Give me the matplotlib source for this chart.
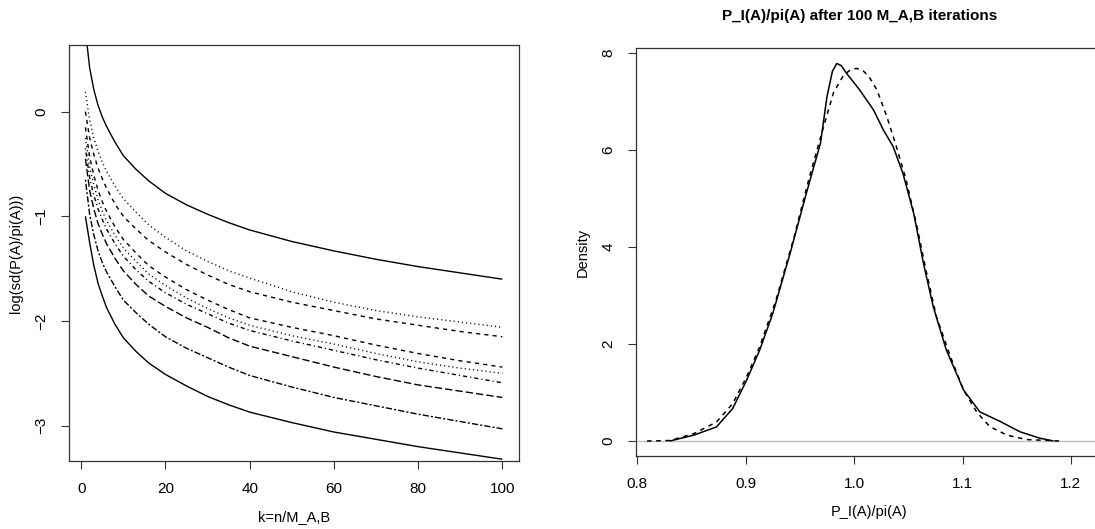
import matplotlib
matplotlib.use("Agg")
import matplotlib.pyplot as plt
import numpy as np

# -----------------------------------------------------------------------------------------------
# DATOS
# -----------------------------------------------------------------------------------------------
# Panel izquierdo: log(sd(P(A)/pi(A))) contra k = n/M_A,B.
k = [1, 2, 3, 4, 5, 6, 8, 10, 13, 16, 20, 25, 30, 35, 40, 50, 60, 70, 80, 90, 100]

curva_1 = [0.78, 0.42, 0.21, 0.06, -0.05, -0.14, -0.29, -0.42, -0.55, -0.66, -0.78,
           -0.89, -0.98, -1.06, -1.13, -1.24, -1.33, -1.41, -1.48, -1.54, -1.60]
curva_2 = [0.19, -0.08, -0.25, -0.38, -0.48, -0.57, -0.71, -0.83, -0.96, -1.08, -1.20,
           -1.33, -1.43, -1.52, -1.59, -1.72, -1.82, -1.90, -1.96, -2.01, -2.06]
curva_3 = [0.0, -0.25, -0.41, -0.54, -0.64, -0.73, -0.88, -1.00, -1.12, -1.23, -1.34,
           -1.46, -1.56, -1.65, -1.72, -1.82, -1.90, -1.98, -2.04, -2.10, -2.15]
curva_4 = [-0.15, -0.43, -0.61, -0.75, -0.86, -0.95, -1.10, -1.22, -1.35, -1.47, -1.58,
           -1.70, -1.80, -1.89, -1.97, -2.06, -2.14, -2.23, -2.31, -2.38, -2.44]
curva_5 = [-0.25, -0.53, -0.70, -0.84, -0.95, -1.04, -1.18, -1.30, -1.43, -1.55, -1.66,
           -1.78, -1.88, -1.97, -2.04, -2.14, -2.22, -2.31, -2.39, -2.45, -2.50]
curva_6 = [-0.35, -0.63, -0.80, -0.93, -1.03, -1.12, -1.26, -1.38, -1.51, -1.62, -1.73,
           -1.84, -1.93, -2.02, -2.09, -2.19, -2.28, -2.37, -2.45, -2.52, -2.59]
curva_7 = [-0.45, -0.75, -0.93, -1.07, -1.17, -1.26, -1.40, -1.52, -1.65, -1.76, -1.86,
           -1.97, -2.06, -2.16, -2.24, -2.34, -2.44, -2.53, -2.61, -2.67, -2.73]
curva_8 = [-0.65, -0.98, -1.18, -1.33, -1.44, -1.53, -1.67, -1.80, -1.92, -2.03, -2.15,
           -2.26, -2.35, -2.44, -2.52, -2.63, -2.73, -2.81, -2.89, -2.96, -3.03]
curva_9 = [-1.00, -1.25, -1.47, -1.64, -1.76, -1.87, -2.03, -2.16, -2.29, -2.40, -2.51,
           -2.62, -2.72, -2.80, -2.87, -2.97, -3.06, -3.13, -3.20, -3.26, -3.32]

# Panel derecho: densidades de P_I(A)/pi(A).
x_solida = [0.830, 0.852, 0.873, 0.888, 0.901, 0.913, 0.925, 0.941, 0.956, 0.969, 0.975,
            0.980, 0.984, 0.988, 0.993, 1.005, 1.018, 1.027, 1.036, 1.045, 1.055, 1.064,
            1.073, 1.085, 1.101, 1.116, 1.135, 1.153, 1.171, 1.184]
d_solida = [0.0, 0.12, 0.29, 0.67, 1.26, 1.88, 2.63, 3.87, 5.11, 6.14, 7.10,
            7.62, 7.78, 7.74, 7.58, 7.24, 6.82, 6.41, 6.07, 5.52, 4.69, 3.66,
            2.77, 1.88, 1.05, 0.60, 0.40, 0.19, 0.06, 0.0]
x_discont = [0.809, 0.830, 0.852, 0.873, 0.888, 0.901, 0.913, 0.928, 0.944, 0.959, 0.972,
             0.981, 0.990, 0.996, 1.002, 1.008, 1.014, 1.021, 1.030, 1.039, 1.048, 1.058,
             1.067, 1.076, 1.089, 1.101, 1.113, 1.125, 1.141, 1.159, 1.190]
d_discont = [0.0, 0.01, 0.15, 0.39, 0.77, 1.33, 1.95, 2.91, 4.15, 5.46, 6.49,
             7.18, 7.53, 7.64, 7.68, 7.64, 7.50, 7.24, 6.70, 6.07, 5.38, 4.42,
             3.45, 2.56, 1.73, 1.05, 0.60, 0.30, 0.12, 0.03, 0.0]

# -----------------------------------------------------------------------------------------------
# ESTILO (parecido a los graficos base de R)
# -----------------------------------------------------------------------------------------------
plt.rcParams["font.family"] = ["Liberation Sans", "DejaVu Sans"]
plt.rcParams["font.size"] = 10.5

# Tipos de linea de R: 1 solida, 2 discontinua, 3 punteada, 4 punto-raya, 5 raya larga, 6 doble raya.
lty = {
    "solid": (0, ()),
    "dashed": (0, (3, 3)),
    "dotted": (0, (0.8, 2.2)),
    "dotdash": (0, (0.8, 2.2, 3, 2.2)),
    "longdash": (0, (5.3, 2.2)),
    "twodash": (0, (1.5, 1.5, 4.5, 1.5)),
}

curvas = [curva_1, curva_2, curva_3, curva_4, curva_5, curva_6, curva_7, curva_8, curva_9]
estilos = ["solid", "dotted", "dashed", "dashed", "dotted", "dotdash", "longdash", "twodash", "solid"]


def estilo_r(ax):
    # Caja completa, marcas hacia afuera y etiquetas del eje y giradas.
    for s in ax.spines.values():
        s.set_linewidth(0.9)
        s.set_color("#333333")
    ax.tick_params(direction="out", length=6, width=0.8, colors="#333333", labelcolor="black",
                   labelsize=11, pad=9)
    ax.tick_params(axis="y", labelrotation=90)
    for lab in ax.get_yticklabels():
        lab.set_verticalalignment("center")


# -----------------------------------------------------------------------------------------------
# FIGURA
# -----------------------------------------------------------------------------------------------
fig = plt.figure(figsize=(10.95, 5.29), dpi=100)

# Panel izquierdo.
ax1 = fig.add_axes([69 / 1095, 68 / 529, 450 / 1095, 416 / 529])
for y, est in zip(curvas, estilos):
    ax1.plot(k, y, color="black", linewidth=1.0, linestyle=lty[est])
ax1.set_xlim(-2.9, 103.95)
ax1.set_ylim(-3.337, 0.637)
ax1.set_xticks([0, 20, 40, 60, 80, 100])
ax1.set_yticks([-3, -2, -1, 0])
ax1.set_yticklabels(["\u22123", "\u22122", "\u22121", "0"])
estilo_r(ax1)
ax1.set_xlabel("k=n/M_A,B", labelpad=10)
ax1.set_ylabel("log(sd(P(A)/pi(A)))", labelpad=8)

# Panel derecho (el borde derecho queda fuera de la imagen, como en el original).
ax2 = fig.add_axes([636 / 1095, 73 / 529, 466 / 1095, 408 / 529])
ax2.axhline(0, color="#BEBEBE", linewidth=1.0)
ax2.plot(x_solida, d_solida, color="black", linewidth=1.1, linestyle=lty["solid"])
ax2.plot(x_discont, d_discont, color="black", linewidth=1.1, linestyle=lty["dashed"])
ax2.set_xlim(0.7988, 0.8 + (1102 - 637.3) / 1084)
ax2.set_ylim(-0.309, 8.10)
ax2.set_xticks([0.8, 0.9, 1.0, 1.1, 1.2])
ax2.set_xticklabels(["0.8", "0.9", "1.0", "1.1", "1.2"])
ax2.set_yticks([0, 2, 4, 6, 8])
estilo_r(ax2)
ax2.set_xlabel("P_I(A)/pi(A)", labelpad=10)
ax2.set_ylabel("Density", labelpad=8)

fig.text(860 / 1095, 1 - 16 / 529, "P_I(A)/pi(A) after 100 M_A,B iterations",
         ha="center", va="center", fontsize=11, fontweight="bold")

fig.savefig("out.png", dpi=100)
